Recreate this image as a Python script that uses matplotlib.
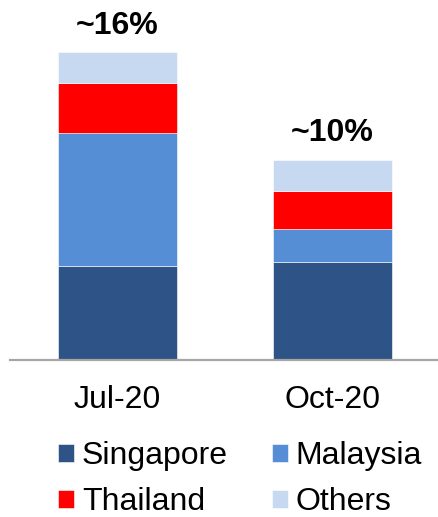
import matplotlib
matplotlib.use("Agg")
import matplotlib.pyplot as plt
import numpy as np

plt.rcParams['font.family'] = ['Liberation Sans', 'DejaVu Sans']

# share by country, %
periods = ["Jul-20", "Oct-20"]
singapore = [4.9, 5.1]
malaysia = [6.9, 1.7]
thailand = [2.6, 2.0]
others = [1.6, 1.6]
totals_text = ["~16%", "~10%"]

series = [("Singapore", singapore, "#2E5386"),
          ("Malaysia", malaysia, "#558ED5"),
          ("Thailand", thailand, "#FF0000"),
          ("Others", others, "#C6D9F1")]

fig = plt.figure(figsize=(4.39, 5.17), dpi=100)
ax = fig.add_axes([10 / 439, 1 - 360 / 517, 430 / 439, 360 / 517])

x = np.arange(len(periods))
bottom = np.zeros(len(periods))
for name, vals, col in series:
    ax.bar(x, vals, width=0.553, bottom=bottom, color=col, label=name,
           edgecolor="white", linewidth=0.4)
    bottom += np.array(vals)

for xi, top, txt in zip(x, bottom, totals_text):
    ax.annotate(txt, (xi, top), xytext=(0, 19), textcoords="offset points",
                ha="center", va="center", fontsize=23, fontweight="bold")

ax.set_xlim(-0.5, 1.5)
ax.set_ylim(0, 18.7)
ax.set_yticks([])
ax.set_xticks(x)
ax.set_xticklabels(periods, fontsize=23)
ax.tick_params(axis="x", length=0, pad=18)
for s in ["top", "left", "right"]:
    ax.spines[s].set_visible(False)
ax.spines["bottom"].set_color("#A6A6A6")
ax.spines["bottom"].set_linewidth(1.6)

# legend fills column-first, so reorder to read across rows
handles, labels = ax.get_legend_handles_labels()
order = [0, 2, 1, 3]
fig.legend([handles[i] for i in order], [labels[i] for i in order],
           loc="upper left", bbox_to_anchor=(58 / 439, 1 - 441 / 517),
           ncol=2, frameon=False, fontsize=23, handlelength=0.5,
           handleheight=0.5, handletextpad=0.25, columnspacing=1.375,
           labelspacing=0.5, borderpad=0, borderaxespad=0)

fig.savefig("out.png", dpi=100)
